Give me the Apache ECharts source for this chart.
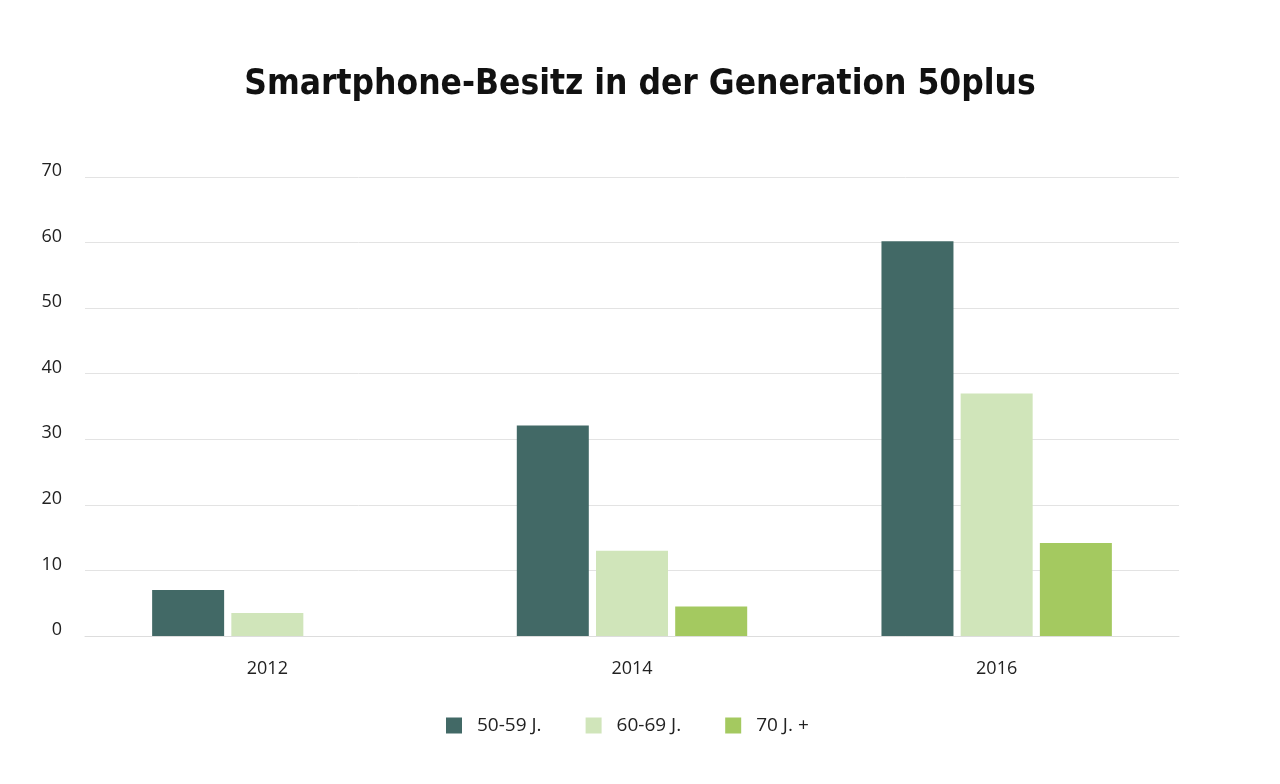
<!DOCTYPE html>
<html><head><meta charset="utf-8">
<script src="https://cdn.jsdelivr.net/npm/echarts@6/dist/echarts.min.js"></script>
<style>html,body{margin:0;padding:0;background:#fff}#c{width:1280px;height:784px}</style>
</head><body><div id="c"></div>
<script>
const categories = ['2012', '2014', '2016'];
const seriesNames = ['50-59 J.', '60-69 J.', '70 J. +'];
const s5059 = [7, 32.1, 60.2];
const s6069 = [3.5, 13, 37];
const s70 = [0, 4.5, 14.2];
const colors = ['#426966', '#d0e5ba', '#a4c960'];

const chart = echarts.init(document.getElementById('c'));
const values = [s5059, s6069, s70];
chart.setOption({
  animation: false,
  backgroundColor: '#fff',
  title: {
    text: 'Smartphone-Besitz in der Generation 50plus',
    left: 'center', top: 62,
    textStyle: { fontFamily: 'Liberation Sans Narrow, DejaVu Sans Condensed, sans-serif', fontWeight: 'bold', fontSize: 35, color: '#111' }
  },
  legend: {
    bottom: 44, left: 441, itemWidth: 16, itemHeight: 16, itemGap: 44,
    icon: 'rect',
    textStyle: { fontFamily: 'Open Sans, sans-serif', fontSize: 19, color: '#222', padding: [0, 0, 0, 10] },
    data: seriesNames
  },
  grid: { left: 85, right: 101, top: 177, bottom: 148 },
  xAxis: {
    type: 'category', data: categories,
    axisLine: { lineStyle: { color: '#dddddd' } },
    axisTick: { show: false },
    axisLabel: { fontFamily: 'Open Sans, sans-serif', fontSize: 18, color: '#222', margin: 24 }
  },
  yAxis: {
    type: 'value', min: 0, max: 70, interval: 10,
    axisLine: { show: false }, axisTick: { show: false },
    splitLine: { lineStyle: { color: '#e3e3e3' } },
    axisLabel: { fontFamily: 'Open Sans, sans-serif', fontSize: 18, color: '#222', margin: 23, verticalAlign: 'bottom', padding: [0, 0, -3, 0] }
  },
  series: seriesNames.map((n, i) => ({
    name: n, type: 'bar', data: values[i], barWidth: 72, barGap: '10%',
    itemStyle: { color: colors[i] }
  }))
});
</script></body></html>
